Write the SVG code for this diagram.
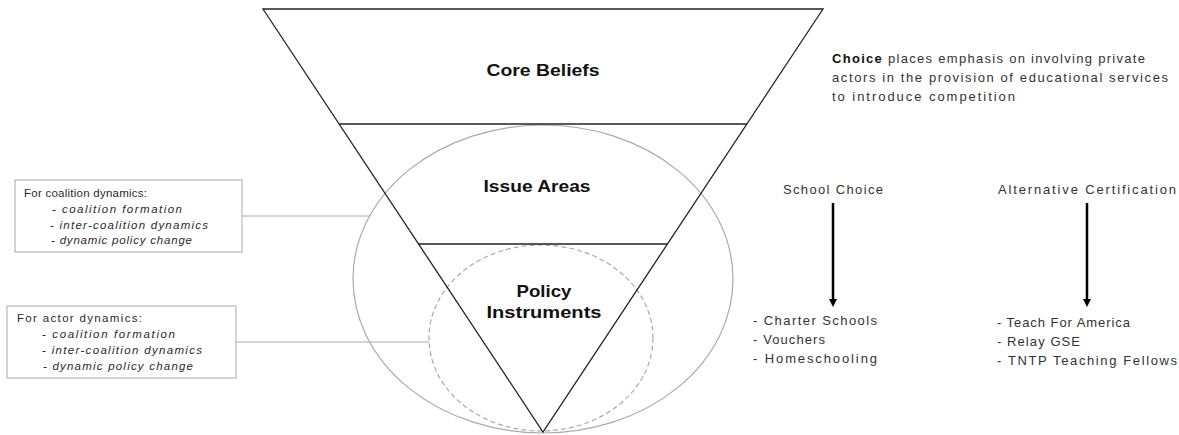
<svg xmlns="http://www.w3.org/2000/svg" width="1179" height="435" viewBox="0 0 1179 435">
<style>
.tri{fill:none;stroke:#222;stroke-width:1.3}
.ell{fill:none;stroke:#aaa;stroke-width:1.2}
.dash{fill:none;stroke:#aaa;stroke-width:1.2;stroke-dasharray:5 3}
.box{fill:#fff;stroke:#aaa;stroke-width:1}
.conn{stroke:#aaa;stroke-width:1;fill:none}
.arr{stroke:#000;stroke-width:2.5;fill:none}
.big{font-family:"Liberation Sans",Arial,sans-serif;font-weight:bold;font-size:17px;fill:#111;text-anchor:middle}
.sm{font-family:"Liberation Sans",Arial,sans-serif;font-size:11.5px;fill:#2a2a2a}
.it{font-style:italic}
.md{font-family:"Liberation Sans",Arial,sans-serif;font-size:13px;fill:#333}
</style>
<defs>
<marker id="ah" markerWidth="8" markerHeight="8" refX="4" refY="4" orient="auto" markerUnits="userSpaceOnUse">
<path d="M0,0 L8,4 L0,8 z" fill="#000"/>
</marker>
</defs>
<g id="circles">
<ellipse class="ell" cx="543" cy="279" rx="190" ry="154"/>
<ellipse class="dash" cx="541" cy="338" rx="112" ry="93"/>
</g>
<g id="pyramid">
<polygon class="tri" points="263,9 823,9 543,432"/>
<line class="tri" x1="339" y1="124" x2="747" y2="124"/>
<line class="tri" x1="418" y1="244" x2="668" y2="244"/>
</g>
<g id="core-beliefs"><text class="big" x="543" y="76" textLength="113" lengthAdjust="spacingAndGlyphs">Core Beliefs</text></g>
<g id="issue-areas"><text class="big" x="537" y="192" textLength="107" lengthAdjust="spacingAndGlyphs">Issue Areas</text></g>
<g id="policy-instruments">
<text class="big" x="544" y="297" textLength="55" lengthAdjust="spacingAndGlyphs">Policy</text>
<text class="big" x="544" y="318" textLength="115" lengthAdjust="spacingAndGlyphs">Instruments</text>
</g>
<g id="connectors">
<line class="conn" x1="242" y1="216" x2="370" y2="216"/>
<line class="conn" x1="236" y1="342" x2="429" y2="342"/>
<line class="arr" x1="833" y1="203" x2="833" y2="303" marker-end="url(#ah)"/>
<line class="arr" x1="1087" y1="203" x2="1087" y2="303" marker-end="url(#ah)"/>
</g>
<g id="coalition-box">
<rect class="box" x="15" y="180" width="227" height="72"/>
<text class="sm" x="24" y="197" textLength="123" lengthAdjust="spacing">For coalition dynamics:</text>
<text class="sm it" x="52" y="213" textLength="130" lengthAdjust="spacing">-  coalition formation</text>
<text class="sm it" x="50" y="229" textLength="158" lengthAdjust="spacing">- inter-coalition dynamics</text>
<text class="sm it" x="51" y="244" textLength="141" lengthAdjust="spacing">- dynamic policy change</text>
</g>
<g id="actor-box">
<rect class="box" x="7" y="306" width="229" height="72"/>
<text class="sm" x="17" y="322" textLength="125" lengthAdjust="spacing">For actor dynamics:</text>
<text class="sm it" x="42" y="338" textLength="133" lengthAdjust="spacing">-  coalition formation</text>
<text class="sm it" x="42" y="354" textLength="160" lengthAdjust="spacing">- inter-coalition dynamics</text>
<text class="sm it" x="43" y="370" textLength="150" lengthAdjust="spacing">- dynamic policy change</text>
</g>
<g id="choice-note">
<text class="md" x="832" y="63" textLength="313" lengthAdjust="spacing"><tspan font-weight="bold" fill="#111">Choice</tspan> places emphasis on involving private</text>
<text class="md" x="832" y="82" textLength="336" lengthAdjust="spacing">actors in the provision of educational services</text>
<text class="md" x="832" y="101" textLength="183" lengthAdjust="spacing">to introduce competition</text>
</g>
<g id="school-choice">
<text class="md" x="783" y="194" textLength="100" lengthAdjust="spacing">School Choice</text>
</g>
<g id="alt-cert">
<text class="md" x="998" y="194" textLength="178" lengthAdjust="spacing">Alternative Certification</text>
</g>
<g id="school-choice-list">
<text class="md" x="753" y="325" textLength="124" lengthAdjust="spacing">- Charter Schools</text>
<text class="md" x="753" y="344" textLength="72" lengthAdjust="spacing">- Vouchers</text>
<text class="md" x="753" y="363" textLength="124" lengthAdjust="spacing">- Homeschooling</text>
</g>
<g id="alt-cert-list">
<text class="md" x="997" y="327" textLength="133" lengthAdjust="spacing">- Teach For America</text>
<text class="md" x="997" y="346" textLength="83" lengthAdjust="spacing">- Relay GSE</text>
<text class="md" x="997" y="365" textLength="180" lengthAdjust="spacing">- TNTP Teaching Fellows</text>
</g>
</svg>
